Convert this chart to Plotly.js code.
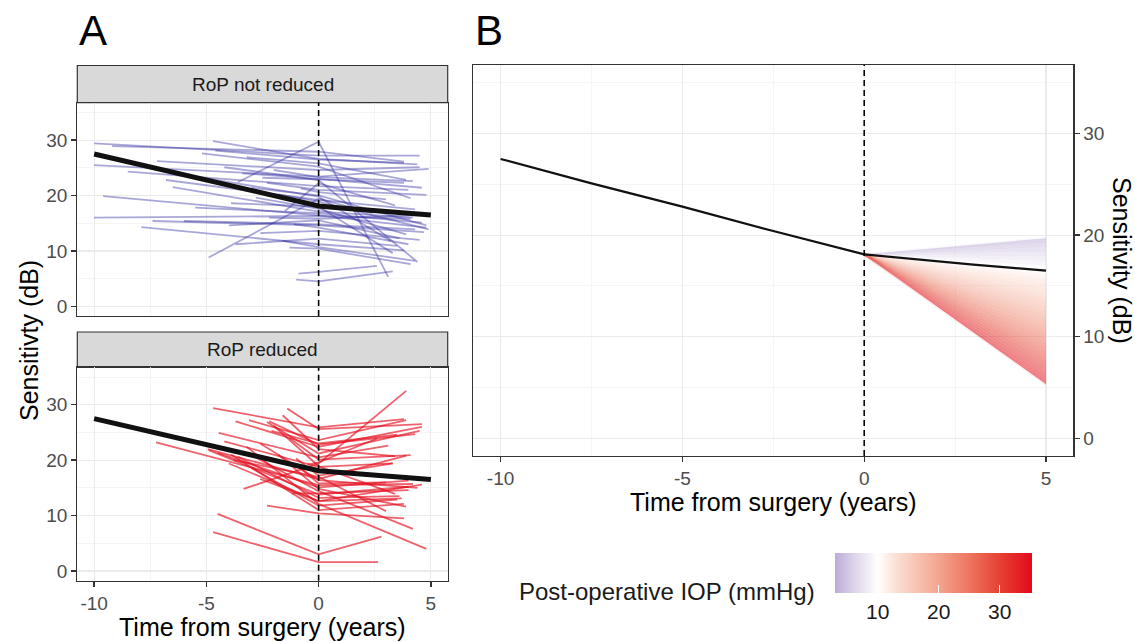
<!DOCTYPE html>
<html>
<head>
<meta charset="utf-8">
<script src="https://cdn.plot.ly/plotly-3.0.1.min.js"></script>
<style>html,body{margin:0;padding:0;background:#fff;}#chart{width:1135px;height:642px;}</style>
</head>
<body>
<div id="chart"></div>
<script>
// ---------- DATA ----------
// Panel A, "RoP not reduced": each patient = first visit (time, dB), value at surgery, last visit (time, dB)
var notRedStartT = [-10.0,-9.2,-10.0,-9.6,-10.0,-7.9,-7.4,-6.0,-4.9,-3.6,-4.7,-7.2,-1.0,-0.9,-4.6,-2.5,-2.3,-3.7,-1.6,-1.3,-5.2,-3.2,-2.0,-4.2,-3.0,-1.8,-2.8,-6.5,-5.5,-4.0,-2.6,-1.5,-8.5,-3.4,-0.8,-2.2,-5.8,-1.1,-3.9,-6.8];
var notRedStartV = [29.4,28.9,25.5,19.9,16.0,14.3,15.4,15.4,8.8,22.4,29.8,26.2,4.8,5.9,28.1,23.2,22.3,11.2,11.8,10.6,27.6,26.9,24.6,25.1,21.4,20.2,19.6,21.5,17.8,14.6,13.2,17.2,24.3,24.0,21.3,16.0,23.6,14.8,18.6,22.8];
var notRedMidV   = [27.2,27.9,23.4,16.4,16.3,11.2,14.6,14.8,19.4,29.7,26.6,24.6,4.5,6.2,26.5,22.9,21.0,12.2,10.7,10.4,25.2,25.8,23.3,22.8,20.0,18.9,17.6,17.1,16.8,15.5,13.6,22.2,21.7,23.0,20.6,15.8,19.8,14.2,18.0,19.2];
var notRedEndT   = [4.5,3.8,4.9,4.8,4.1,3.8,4.7,4.3,2.4,3.1,4.4,4.5,3.3,2.6,3.8,3.8,4.8,3.5,4.3,4.1,4.1,3.9,4.2,4.4,4.8,4.9,3.9,4.2,4.6,3.6,4.5,3.4,4.0,4.6,3.0,4.7,3.2,4.0,3.3,4.3];
var notRedEndV   = [27.2,26.1,24.8,14.2,15.8,10.1,13.4,13.9,16.8,5.3,25.6,25.1,6.3,7.3,25.9,22.3,20.1,10.9,8.2,7.6,19.5,22.8,22.6,8.0,14.6,13.9,13.0,16.0,15.1,12.3,12.0,18.2,21.0,21.4,19.3,16.5,11.8,11.2,9.6,17.5];

// Panel A, "RoP reduced"
var redStartT = [-4.7,-1.4,-3.7,-3.1,-2.2,-4.45,-4.94,-4.9,-4.2,-3.34,-2.3,-4.5,-4.7,-7.24,-1.6,-2.3,-3.9,-3.2,-2.8,-2.0,-4.5,-3.6,-1.0,-2.6,-1.8,-4.0,-3.0,-0.8,-1.3,-2.6,-1.2,-3.8,-0.5,-2.1];
var redStartV = [29.4,29.3,27.0,27.2,27.0,24.9,22.0,21.8,23.4,14.8,11.8,10.3,7.0,23.2,28.1,26.9,21.0,22.4,20.5,26.2,21.3,20.6,20.3,23.0,21.0,19.4,18.6,18.5,24.0,16.6,14.0,20.0,19.2,25.3];
var redMidV   = [25.9,25.6,22.4,23.6,22.8,20.5,16.6,13.8,18.8,19.4,10.4,3.0,1.6,15.5,22.0,21.2,11.0,12.1,14.4,18.9,15.1,13.2,17.2,16.4,14.8,12.6,11.8,15.8,20.1,12.6,14.0,17.0,19.6,23.0];
var redEndT   = [3.8,4.6,4.6,3.9,4.3,3.1,3.9,4.0,3.3,3.9,3.8,2.8,2.65,4.2,3.4,4.5,3.8,4.8,4.2,3.4,4.0,3.6,3.3,4.4,3.9,3.7,3.5,3.0,4.1,4.6,4.0,3.0,2.6,3.5];
var redEndV   = [27.4,26.5,26.0,27.2,24.7,22.6,20.8,15.2,19.4,32.5,9.5,6.2,1.6,15.7,20.7,25.3,12.1,4.0,7.6,13.9,16.3,13.5,19.4,15.0,11.6,13.1,12.9,16.0,20.9,15.6,14.6,10.8,23.9,24.6];

// Population mean trajectory (same in A and B)
var meanT = [-10,-7.5,-5,-2.5,0,1,2,3,4,5];
var meanV = [27.5,25.1,22.8,20.4,18.1,17.75,17.4,17.1,16.8,16.5];

// Panel B: predicted post-operative trajectories by post-operative IOP
var fanIOP  = [3,4,5,6,7,8,9,10,11,12,13,14,15,16,17,18,19,20,21,22,23,24,25,26,27,28,29,30,31,32,33,34,35];
var fanEndV = [19.70,19.25,18.80,18.35,17.90,17.45,17.00,16.55,16.10,15.66,15.21,14.76,14.31,13.86,13.41,12.96,12.51,12.06,11.61,11.16,10.71,10.27,9.82,9.37,8.92,8.47,8.02,7.57,7.12,6.67,6.22,5.77,5.32];
var fanStartT = 0, fanEndT = 5, fanStartV = 18.1;

var iopRange = [3, 35.3];
var colorbarTicks = [10, 20, 30];

// ---------- STYLE ----------
var FONT = 'Liberation Sans, Arial, Helvetica, sans-serif';
var csStops = [
  [0.000, [188,172,214]],
  [0.100, [222,212,235]],
  [0.217, [255,255,255]],
  [0.300, [252,226,216]],
  [0.526, [243,165,143]],
  [0.680, [237,118,96]],
  [0.836, [230,65,52]],
  [1.000, [226,10,26]]
];
var colorscale = csStops.map(function(s){return [s[0], 'rgb('+s[1].join(',')+')'];});
function rgbAt(v){
  var f = (v - iopRange[0])/(iopRange[1]-iopRange[0]);
  f = Math.max(0, Math.min(1, f));
  for (var i=1;i<csStops.length;i++){
    if (f <= csStops[i][0]){
      var a=csStops[i-1], b=csStops[i];
      var u=(f-a[0])/(b[0]-a[0]);
      return [0,1,2].map(function(k){return Math.round(a[1][k]+(b[1][k]-a[1][k])*u);});
    }
  }
  return csStops[csStops.length-1][1];
}
function rgba(c, a){return 'rgba('+c.join(',')+','+a+')';}

var W=1135, H=642;
function px(x){return x/W;}
function py(y){return 1-y/H;}

var traces = [];
// Panel A top lines
for (var i=0;i<notRedStartT.length;i++){
  traces.push({type:'scatter', mode:'lines', xaxis:'x', yaxis:'y',
    x:[notRedStartT[i], 0, notRedEndT[i]], y:[notRedStartV[i], notRedMidV[i], notRedEndV[i]],
    line:{color:'rgba(50,45,160,0.42)', width:1.8}, hoverinfo:'skip', showlegend:false});
}
traces.push({type:'scatter', mode:'lines', xaxis:'x', yaxis:'y', x:meanT, y:meanV,
  line:{color:'#111', width:5}, hoverinfo:'skip', showlegend:false});
// Panel A bottom lines
for (var j=0;j<redStartT.length;j++){
  traces.push({type:'scatter', mode:'lines', xaxis:'x2', yaxis:'y2',
    x:[redStartT[j], 0, redEndT[j]], y:[redStartV[j], redMidV[j], redEndV[j]],
    line:{color:'rgba(228,16,32,0.66)', width:1.8}, hoverinfo:'skip', showlegend:false});
}
traces.push({type:'scatter', mode:'lines', xaxis:'x2', yaxis:'y2', x:meanT, y:meanV,
  line:{color:'#111', width:5}, hoverinfo:'skip', showlegend:false});
// Panel B fan: wedges between neighbouring IOP trajectories
for (var k=0;k<fanIOP.length-1;k++){
  var c = rgbAt((fanIOP[k]+fanIOP[k+1])/2);
  traces.push({type:'scatter', mode:'lines', xaxis:'x3', yaxis:'y3', fill:'toself',
    x:[fanStartT, fanEndT, fanEndT, fanStartT], y:[fanStartV, fanEndV[k], fanEndV[k+1], fanStartV],
    fillcolor:rgba(c,0.5), line:{color:'rgba(0,0,0,0)', width:0}, hoverinfo:'skip', showlegend:false});
}
// trajectories on top (they pile up near surgery, as in the original)
for (var m=0;m<fanIOP.length;m++){
  traces.push({type:'scatter', mode:'lines', xaxis:'x3', yaxis:'y3',
    x:[fanStartT, fanEndT], y:[fanStartV, fanEndV[m]],
    line:{color:rgba(rgbAt(fanIOP[m]),0.07), width:3}, hoverinfo:'skip', showlegend:false});
}
traces.push({type:'scatter', mode:'lines', xaxis:'x3', yaxis:'y3', x:meanT, y:meanV,
  line:{color:'#111', width:2.2}, hoverinfo:'skip', showlegend:false});
// colorbar carrier
traces.push({type:'scatter', mode:'markers', xaxis:'x3', yaxis:'y3', x:[null,null], y:[null,null],
  marker:{color:iopRange, cmin:iopRange[0], cmax:iopRange[1], colorscale:colorscale, showscale:true,
    colorbar:{orientation:'h', x:px(835), xanchor:'left', y:py(553), yanchor:'top',
      len:197, lenmode:'pixels', thickness:40, thicknessmode:'pixels', xpad:0, ypad:0,
      outlinewidth:0, tickmode:'array', tickvals:colorbarTicks, ticks:'inside', ticklen:8, tickcolor:'#fff', tickwidth:1,
      tickfont:{family:FONT, size:21, color:'#1a1a1a'}}},
  hoverinfo:'skip', showlegend:false});

var xDomA=[px(77.3), px(447.7)];
var xRange=[-10.75,5.75], yRange=[-1.75,36.75];
function xAxis(domain, anchor, labels){
  return {domain:domain, anchor:anchor, range:xRange, tickmode:'array', tickvals:[-10,-5,0,5],
    ticktext:['-10','-5','0','5'],
    showticklabels:labels, ticks:labels?'outside':'', ticklen:5, tickwidth:1.3, tickcolor:'#333',
    tickfont:{family:FONT, size:19, color:'#4d4d4d'},
    showgrid:true, gridcolor:'#ebebeb', gridwidth:1.2, zeroline:false,
    minor:{tickmode:'array', tickvals:[-7.5,-2.5,2.5], showgrid:true, gridcolor:'#f3f3f3', gridwidth:0.8, ticks:''},
    showline:true, mirror:true, linecolor:'#333', linewidth:1.2, fixedrange:true};
}
function yAxis(domain, anchor, side){
  return {domain:domain, anchor:anchor, side:side||'left', range:yRange, tickmode:'array', tickvals:[0,10,20,30],
    ticks:'outside', ticklen:5, tickwidth:1.3, tickcolor:'#333',
    tickfont:{family:FONT, size:19, color:'#4d4d4d'},
    showgrid:true, gridcolor:'#ebebeb', gridwidth:1.2, zeroline:false,
    minor:{tickmode:'array', tickvals:[5,15,25,35], showgrid:true, gridcolor:'#f3f3f3', gridwidth:0.8, ticks:''},
    showline:true, mirror:true, linecolor:'#333', linewidth:1.2, fixedrange:true};
}

function dashLine(xr, yr){
  return {type:'line', xref:xr, yref:yr+' domain', x0:0, x1:0, y0:0, y1:1,
    line:{color:'#000', width:1.6, dash:'6px,4px'}, layer:'above'};
}
function ann(text, x, y, size, color, angle){
  return {text:text, xref:'paper', yref:'paper', x:px(x), y:py(y), xanchor:'center', yanchor:'middle',
    textangle:angle||0, showarrow:false, font:{family:FONT, size:size, color:color}};
}

var layout = {
  width:W, height:H, margin:{l:0,r:0,t:0,b:0}, paper_bgcolor:'#fff', plot_bgcolor:'#fff',
  showlegend:false, font:{family:FONT},
  xaxis: xAxis(xDomA,'y',false),
  yaxis: yAxis([py(316), py(102.7)],'x'),
  xaxis2: xAxis(xDomA,'y2',true),
  yaxis2: yAxis([py(580.7), py(367.3)],'x2'),
  xaxis3: xAxis([px(473.3), px(1073.3)],'y3',true),
  yaxis3: yAxis([py(456), py(65)],'x3','right'),
  shapes:[
    {type:'rect', xref:'paper', yref:'paper', x0:xDomA[0], x1:xDomA[1], y0:py(102.7), y1:py(65.5),
      fillcolor:'#d9d9d9', line:{color:'#333', width:1.2}, layer:'below'},
    {type:'rect', xref:'paper', yref:'paper', x0:xDomA[0], x1:xDomA[1], y0:py(367.3), y1:py(332),
      fillcolor:'#d9d9d9', line:{color:'#333', width:1.2}, layer:'below'},
    dashLine('x','y'), dashLine('x2','y2'), dashLine('x3','y3')
  ],
  annotations:[
    ann('A', 93, 31, 42, '#000'),
    ann('B', 489, 31, 42, '#000'),
    ann('RoP not reduced', 262.5, 84, 19, '#1a1a1a'),
    ann('RoP reduced', 262.5, 350, 19, '#1a1a1a'),
    ann('Sensitivty (dB)', 29, 341, 25, '#000', -90),
    ann('Time from surgery (years)', 262.5, 627, 25, '#000'),
    ann('Time from surgery (years)', 773, 502, 25, '#000'),
    ann('Sensitivity (dB)', 1122, 260, 25, '#000', 90),
    ann('Post-operative IOP (mmHg)', 667, 591, 24, '#1a1a1a')
  ]
};

Plotly.newPlot('chart', traces, layout, {staticPlot:true, displayModeBar:false});
</script>
</body>
</html>
